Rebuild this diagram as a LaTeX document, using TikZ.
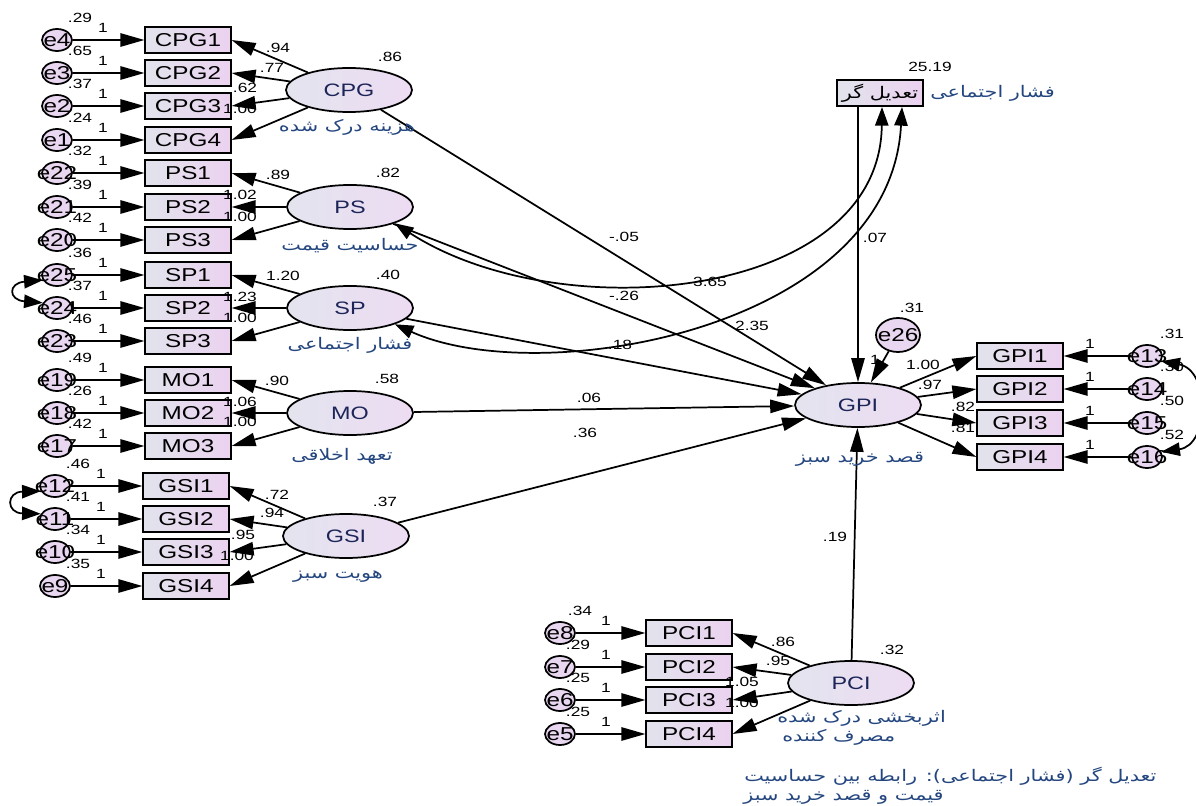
\documentclass[tikz,border=0pt]{standalone}
\usepackage{fontspec}
\setmainfont[FakeStretch=1.3]{Liberation Sans}
\newfontfamily\arabicfont[Script=Arabic,FakeStretch=1.3]{DejaVu Sans}
\TeXXeTstate=1
\usetikzlibrary{arrows.meta,shapes.geometric,calc}
\definecolor{boxL}{HTML}{E2E3EC}
\definecolor{boxR}{HTML}{EBD2F0}
\definecolor{ellL}{HTML}{E3E4EE}
\definecolor{ellR}{HTML}{EDDCF3}
\definecolor{errF}{HTML}{E9D6F0}
\definecolor{perC}{HTML}{24467F}
\definecolor{latC}{HTML}{1C2458}
\tikzset{
 obs/.style={draw, line width=1.4pt, rectangle, left color=boxL, right color=boxR,
   minimum width=64pt, minimum height=19.5pt, inner sep=0pt, font=\fontsize{14}{16}\selectfont},
 lat/.style={draw, line width=1.3pt, ellipse, left color=ellL, right color=ellR,
   minimum width=94.5pt, minimum height=33pt, inner sep=0pt, text=latC, font=\fontsize{13.5}{16}\selectfont},
 errc/.style={draw, line width=1.3pt, ellipse, fill=errF, minimum width=22.5pt, minimum height=16.5pt, inner sep=0pt},
 etxt/.style={font=\fontsize{14}{16}\selectfont, inner sep=0pt},
 num/.style={font=\fontsize{10}{12}\selectfont, inner sep=0pt},
 ptxt/.style={font=\arabicfont\fontsize{12}{14}\selectfont, text=perC, inner sep=0pt},
 arr/.style={line width=1.3pt, -{Triangle[length=18pt,width=10pt]}},
 cov/.style={line width=1.3pt, {Triangle[length=14pt,width=10pt]}-{Triangle[length=14pt,width=10pt]}}
}
% #1 err x, #2 box x, #3 "1" x, #4 variance x, #5 err name, #6 box name, #7 y, #8 variance
\newcommand\IRow[8]{%
 \node[errc] (#5) at (#1,#7) {};
 \node[obs] (#6) at (#2,#7) {#6};
 \draw[arr] (#5) -- (#6);
 \node[etxt] at (#1,#7) {#5};
 \node[num] at (#3,#7-12) {1};
 \node[num] at (#4,#7-22) {#8};}
\begin{document}
\begin{tikzpicture}[x=0.75pt,y=-0.75pt]
\useasboundingbox (0,0) rectangle (1196,806);
% left indicators
\IRow{57}{188}{103}{80}{e4}{CPG1}{40}{.29}
\IRow{57}{188}{103}{80}{e3}{CPG2}{73}{.65}
\IRow{57}{188}{103}{80}{e2}{CPG3}{106}{.37}
\IRow{57}{188}{103}{80}{e1}{CPG4}{140}{.24}
\IRow{57}{188}{103}{80}{e22}{PS1}{173}{.32}
\IRow{57}{188}{103}{80}{e21}{PS2}{207}{.39}
\IRow{57}{188}{103}{80}{e20}{PS3}{240}{.42}
\IRow{57}{188}{103}{80}{e25}{SP1}{275}{.36}
\IRow{57}{188}{103}{80}{e24}{SP2}{308}{.37}
\IRow{57}{188}{103}{80}{e23}{SP3}{341}{.46}
\IRow{57}{188}{103}{80}{e19}{MO1}{380}{.49}
\IRow{57}{188}{103}{80}{e18}{MO2}{413}{.26}
\IRow{57}{188}{103}{80}{e17}{MO3}{446}{.42}
\IRow{55}{186}{101}{78}{e12}{GSI1}{486}{.46}
\IRow{55}{186}{101}{78}{e11}{GSI2}{519}{.41}
\IRow{55}{186}{101}{78}{e10}{GSI3}{552}{.34}
\IRow{55}{186}{101}{78}{e9}{GSI4}{586}{.35}
% right indicators
\IRow{1147}{1020}{1090}{1172}{e13}{GPI1}{356}{.31}
\IRow{1147}{1020}{1090}{1172}{e14}{GPI2}{389}{.30}
\IRow{1147}{1020}{1090}{1172}{e15}{GPI3}{423}{.50}
\IRow{1147}{1020}{1090}{1172}{e16}{GPI4}{457}{.52}
% PCI indicators
\IRow{560}{689}{606}{580}{e8}{PCI1}{633}{.34}
\IRow{560}{689}{606}{578}{e7}{PCI2}{667}{.29}
\IRow{560}{689}{606}{578}{e6}{PCI3}{700}{.25}
\IRow{560}{689}{606}{578}{e5}{PCI4}{734}{.25}
% latents
\node[lat] (CPG) at (349,90) {CPG};
\node[lat] (PS) at (350,207) {PS};
\node[lat] (SP) at (350,308) {SP};
\node[lat] (MO) at (350,413) {MO};
\node[lat] (GSI) at (346,536) {GSI};
\node[lat] (GPI) at (858,405) {GPI};
\node[lat] (PCI) at (851,683) {PCI};
% loadings
\foreach \i in {1,...,4} {\draw[arr] (CPG) -- (CPG\i.east);}
\foreach \i in {1,...,3} {\draw[arr] (PS) -- (PS\i.east); \draw[arr] (SP) -- (SP\i.east); \draw[arr] (MO) -- (MO\i.east);}
\foreach \i in {1,...,4} {\draw[arr] (GSI) -- (GSI\i.east); \draw[arr] (PCI) -- (PCI\i.east); \draw[arr] (GPI) -- (GPI\i.west);}
% loading labels
\node[num] at (390,57) {.86}; \node[num] at (278,48) {.94}; \node[num] at (272,68) {.77};
\node[num] at (245,88) {.62}; \node[num] at (240,109) {1.00};
\node[num] at (388,173) {.82}; \node[num] at (278,175) {.89}; \node[num] at (240,195) {1.02};
\node[num] at (240,217) {1.00};
\node[num] at (388,275) {.40}; \node[num] at (283,276) {1.20}; \node[num] at (240,297) {1.23};
\node[num] at (240,318) {1.00};
\node[num] at (387,379) {.58}; \node[num] at (277,381) {.90}; \node[num] at (240,402) {1.06};
\node[num] at (240,422) {1.00};
\node[num] at (385,502) {.37}; \node[num] at (277,495) {.72}; \node[num] at (272,513) {.94};
\node[num] at (243,535) {.95}; \node[num] at (237,556) {1.00};
\node[num] at (892,650) {.32}; \node[num] at (783,642) {.86}; \node[num] at (778,661) {.95};
\node[num] at (742,682) {1.05}; \node[num] at (742,703) {1.00};
\node[num] at (923,365) {1.00}; \node[num] at (930,385) {.97}; \node[num] at (963,407) {.82};
\node[num] at (963,428) {.81};
% e26
\node[errc, minimum width=33pt, minimum height=25.5pt] (e26) at (898,335) {};
\node[etxt] at (898,335) {e26};
\draw[arr] (e26) -- (GPI);
\node[num] at (912,308) {.31};
\node[num] at (875,360) {1};
% moderator
\node[obs, font=\arabicfont\fontsize{12}{14}\selectfont, minimum height=20pt] (mod) at (880,93) {\beginR تعدیل گر\endR};
\node[num] at (930,67) {25.19};
\node[ptxt, anchor=west] (modl) at (930,93) {\beginR فشار اجتماعی\endR};
\draw[arr] (mod.south -| GPI.north) -- (GPI.north);
\node[num] at (875,238) {.07};
\coordinate (m1) at (882,107);
\coordinate (m2) at (902,107);
\draw[cov] (m1) .. controls (880,300) and (560,330) .. (PS.-20);
\draw[cov] (m2) .. controls (890,330) and (540,390) .. (SP.-20);
\node[num] at (710,282) {3.65};
\node[num] at (752,326) {2.35};
% structural paths
\draw[arr] (CPG) -- (GPI);
\draw[arr] (PS) -- (GPI);
\draw[arr] (SP) -- (GPI);
\draw[arr] (MO) -- (GPI);
\draw[arr] (GSI) -- (GPI);
\draw[arr] (PCI) -- (GPI);
\node[num] at (624,237) {-.05};
\node[num] at (624,296) {-.26};
\node[num] at (620,345) {.18};
\node[num] at (589,398) {.06};
\node[num] at (585,433) {.36};
\node[num] at (835,537) {.19};
% error covariances
\draw[cov] (e25.200) .. controls (8,283) and (8,300) .. (e24.160);
\draw[cov] (e12.200) .. controls (6,492) and (6,513) .. (e11.160);
\draw[cov] (e13.-20) .. controls (1210,370) and (1210,445) .. (e16.20);
% persian labels
\node[ptxt] at (347,127) {\beginR هزینه درک شده\endR};
\node[ptxt] at (350,246) {\beginR حساسیت قیمت\endR};
\node[ptxt] at (350,345) {\beginR فشار اجتماعی\endR};
\node[ptxt] at (342,456) {\beginR تعهد اخلاقی\endR};
\node[ptxt] at (338,577) {\beginR هویت سبز\endR};
\node[ptxt] at (860,459) {\beginR قصد خرید سبز\endR};
\node[ptxt, anchor=west] at (777,718) {\beginR اثربخشی درک شده\endR};
\node[ptxt, anchor=west] at (782,737) {\beginR مصرف کننده\endR};
\node[ptxt, anchor=west] at (744,776) {\beginR تعدیل گر (فشار اجتماعی): رابطه بین حساسیت\endR};
\node[ptxt, anchor=west] at (743,797) {\beginR قیمت و قصد خرید سبز\endR};
\end{tikzpicture}
\end{document}
